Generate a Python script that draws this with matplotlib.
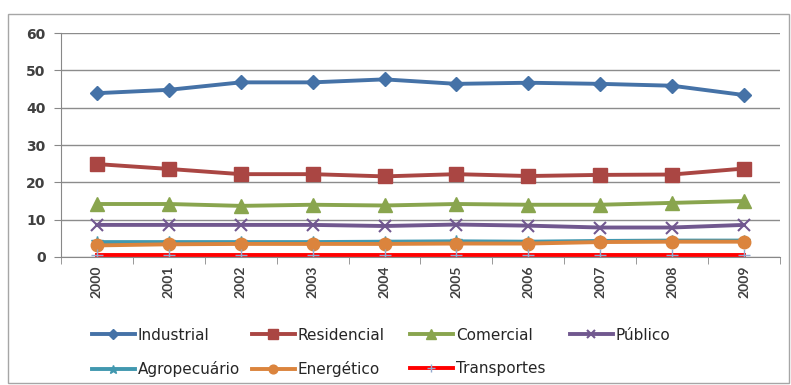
import matplotlib.pyplot as plt
from matplotlib.patches import Rectangle

plt.rcParams['font.family'] = ['Lato', 'DejaVu Sans']

# dados
anos = ["2000", "2001", "2002", "2003", "2004", "2005", "2006", "2007", "2008", "2009"]
industrial = [43.9, 44.8, 46.8, 46.8, 47.6, 46.4, 46.7, 46.4, 45.9, 43.4]
residencial = [24.9, 23.6, 22.2, 22.2, 21.6, 22.2, 21.7, 22.0, 22.1, 23.7]
comercial = [14.2, 14.2, 13.7, 14.0, 13.8, 14.2, 14.0, 14.0, 14.5, 15.0]
publico = [8.6, 8.6, 8.6, 8.6, 8.3, 8.7, 8.4, 7.9, 7.9, 8.6]
agropecuario = [4.0, 4.0, 4.0, 4.0, 4.1, 4.2, 4.1, 4.3, 4.4, 4.4]
energetico = [3.1, 3.4, 3.5, 3.5, 3.5, 3.6, 3.6, 4.0, 4.1, 4.1]
transportes = [0.4, 0.4, 0.4, 0.4, 0.4, 0.4, 0.4, 0.4, 0.4, 0.4]

W, H = 791, 385
fig = plt.figure(figsize=(W / 100, H / 100), dpi=100)
ax = fig.add_axes([0.0771, 0.3325, 0.9089, 0.5815])

# moldura externa do grafico
fig.patches.append(Rectangle((8/W, 2/H), 781/W, 369/H, transform=fig.transFigure,
                             fill=False, edgecolor="#a6a6a6", lw=1.0))

x = list(range(len(anos)))
l_ind, = ax.plot(x, industrial, color="#4572a7", lw=2.8, marker="D", ms=7.5, label="Industrial")
l_res, = ax.plot(x, residencial, color="#aa4643", lw=2.8, marker="s", ms=9.5, label="Residencial")
l_com, = ax.plot(x, comercial, color="#89a54e", lw=2.8, marker="^", ms=9.5, label="Comercial")
l_pub, = ax.plot(x, publico, color="#71588f", lw=2.8, marker="x", ms=9, mew=1.5, label="Público")
l_agr, = ax.plot(x, agropecuario, color="#4198af", lw=2.8, marker="*", ms=9, label="Agropecuário")
l_ene, = ax.plot(x, energetico, color="#db843d", lw=2.8, marker="o", ms=9, label="Energético")
l_tra, = ax.plot(x, transportes, color="#ff0000", lw=2.8, marker="+", ms=9, mec="#93a9cf", label="Transportes")

ax.set_xlim(-0.5, len(anos) - 0.5)
ax.set_ylim(0, 60)
ax.set_yticks(range(0, 61, 10))
ax.set_xticks(x)
ax.set_xticklabels(anos, rotation=90, fontweight="bold")
ax.set_yticklabels([str(v) for v in range(0, 61, 10)], family="DejaVu Sans", fontweight="bold")
ax.set_xticks([i - 0.5 for i in range(len(anos) + 1)], minor=True)
ax.tick_params(axis="x", which="major", length=0, labelsize=10, colors="#404040", pad=6)
ax.tick_params(axis="x", which="minor", length=5, color="#888888")
ax.tick_params(axis="y", length=5, pad=6, color="#888888", labelsize=10, labelcolor="#404040")
ax.grid(axis="y", color="#8c8c8c", lw=1)
ax.set_axisbelow(True)
for s in ["top", "right"]:
    ax.spines[s].set_visible(False)
ax.spines["left"].set_color("#888888")
ax.spines["bottom"].set_color("#888888")

# legenda em grade fixa como no Excel (cada entrada na sua posicao)
linhas = [[l_ind, l_res, l_com, l_pub], [l_agr, l_ene, l_tra]]
col_px = [92, 252, 410, 570]
row_px = [335, 369]
for r, row in enumerate(linhas):
    for c, h in enumerate(row):
        leg = fig.legend(handles=[h], labels=[h.get_label()], loc="center left",
                         bbox_to_anchor=(col_px[c] / W, 1 - row_px[r] / H), frameon=False,
                         prop={"family": "DejaVu Sans", "size": 11}, handlelength=2.8,
                         handletextpad=0.2, borderpad=0, borderaxespad=0, markerscale=0.7)
        for t in leg.get_texts():
            t.set_color("#262626")

fig.savefig("out.png", dpi=100)
